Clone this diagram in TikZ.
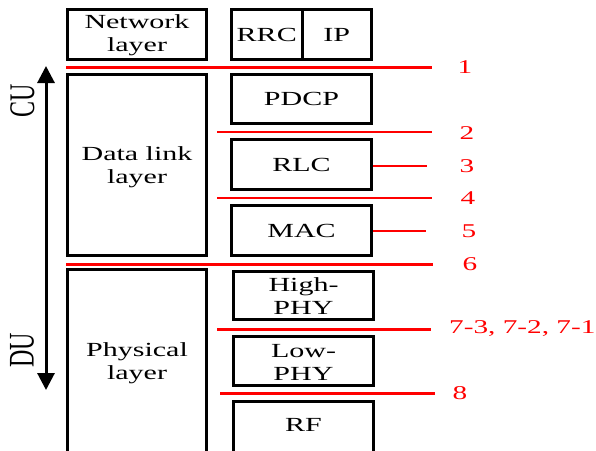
\documentclass[tikz,border=0pt]{standalone}
\usepackage{fontspec}
\setmainfont{Liberation Serif}
\usetikzlibrary{arrows.meta}
\newcommand{\wt}[1]{\scalebox{1.5}[1]{#1}}
\tikzset{
  box/.style={draw=black, line width=3pt, inner sep=0pt, font=\fontsize{20}{23}\selectfont, align=center},
  txt/.style={inner sep=0pt, font=\fontsize{20}{23}\selectfont, align=center},
  cut/.style={draw=red, line width=3pt},
  thincut/.style={draw=red, line width=1.5pt},
  num/.style={inner sep=0pt, text=red, font=\fontsize{19.5}{22}\selectfont},
  side/.style={inner sep=0pt, font=\fontsize{24}{28}\selectfont},
}
\begin{document}
\begin{tikzpicture}[x=1pt, y=-1pt]
\useasboundingbox (0,0) rectangle (596,450);
\clip (0,0) rectangle (596,450);

% layer boxes on the left
\node[box, minimum width=139, minimum height=50] (net) at (137,34.5) {};
\node[txt] (nettext) at (137,35.5) {\wt{Network}\\\wt{layer}};
\node[box, minimum width=139, minimum height=181] (dll) at (137,165) {};
\node[txt] (dlltext) at (137,167.5) {\wt{Data link}\\\wt{layer}};
\node[box, minimum width=139, minimum height=220] (phy) at (137,379.5) {};
\node[txt] (phytext) at (137,363) {\wt{Physical}\\\wt{layer}};

% protocol boxes on the right
\node[box, minimum width=70.5, minimum height=50] (rrc) at (266.75,34.5) {\wt{RRC}};
\node[box, minimum width=69.5, minimum height=50] (ip) at (336.75,34.5) {\wt{IP}};
\node[box, minimum width=140, minimum height=49] (pdcp) at (301.5,99) {\wt{PDCP}};
\node[box, minimum width=140, minimum height=50] (rlc) at (301.5,164.5) {\wt{RLC}};
\node[box, minimum width=140, minimum height=50] (mac) at (301.5,230.5) {\wt{MAC}};
\node[box, minimum width=140, minimum height=48] (high) at (303.5,295.5) {};
\node[txt] (hightext) at (303.5,296.5) {\wt{High-}\\\wt{PHY}};
\node[box, minimum width=140, minimum height=49] (low) at (303.5,361) {};
\node[txt] (lowtext) at (303.5,362) {\wt{Low-}\\\wt{PHY}};
\node[box, minimum width=140, minimum height=80] (rf) at (303.5,441.5) {};
\node[txt] (rftext) at (303.5,425) {\wt{RF}};

% split points
\coordinate (s1a) at (66,67);   \coordinate (s1b) at (432,67);
\coordinate (s2a) at (217,132); \coordinate (s2b) at (432,132);
\coordinate (s3b) at (427,166);
\coordinate (s4a) at (217,198); \coordinate (s4b) at (432,198);
\coordinate (s5b) at (426,231);
\coordinate (s6a) at (66,264);  \coordinate (s6b) at (433,264);
\coordinate (s7a) at (217,329); \coordinate (s7b) at (431,329);
\coordinate (s8a) at (220,393); \coordinate (s8b) at (435,393);

\draw[cut] (s1a) -- (s1b);
\draw[thincut] (s2a) -- (s2b);
\draw[draw=red, line width=2.5pt] (rlc.east |- s3b) -- (s3b);
\draw[thincut] (s4a) -- (s4b);
\draw[thincut] (mac.east |- s5b) -- (s5b);
\draw[cut] (s6a) -- (s6b);
\draw[cut] (s7a) -- (s7b);
\draw[cut] (s8a) -- (s8b);

\node[num] (n1) at (465,67) {\wt{1}};
\node[num] (n2) at (467,133) {\wt{2}};
\node[num] (n3) at (467,166) {\wt{3}};
\node[num] (n4) at (468,198) {\wt{4}};
\node[num] (n5) at (469,231) {\wt{5}};
\node[num] (n6) at (470,264) {\wt{6}};
\node[num, anchor=west] (n7) at (449,329) {\wt{7-3, 7-2, 7-1}};
\node[num] (n8) at (460,393) {\wt{8}};

% CU / DU extent
\coordinate (top) at (46,66);
\coordinate (bot) at (46,390);
\draw[line width=3pt, {Triangle[width=17pt,length=17pt]}-{Triangle[width=17pt,length=17pt]}] (top) -- (bot);
\node[side] (cu) at (22.5,100.5) {\scalebox{1.5}[1]{\rotatebox{90}{CU}}};
\node[side] (du) at (22,350) {\scalebox{1.5}[1]{\rotatebox{90}{DU}}};
\end{tikzpicture}
\end{document}
